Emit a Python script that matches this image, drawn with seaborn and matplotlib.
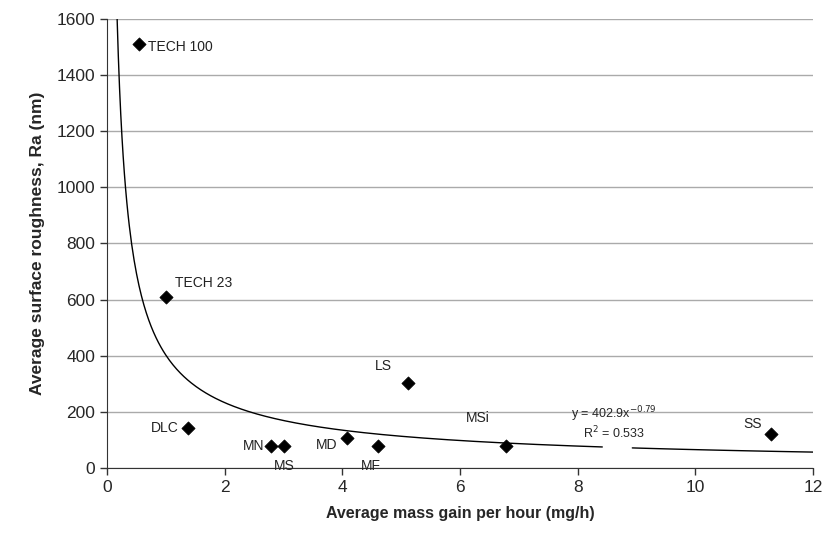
import numpy as np
import pandas as pd
import matplotlib
matplotlib.use("Agg")
import matplotlib.pyplot as plt
import seaborn as sns

labels = ["TECH 100", "TECH 23", "DLC", "MN", "MS", "MD", "MF", "LS", "MSi", "SS"]
mass_gain = [0.54, 1.0, 1.38, 2.79, 3.01, 4.08, 4.61, 5.12, 6.79, 11.28]
roughness = [1510, 610, 143, 78, 78, 107, 78, 303, 78, 121]
fit_a = 402.9
fit_b = -0.79
r2 = 0.533

sns.set_style("white")
plt.rcParams['font.family'] = ['Liberation Sans', 'DejaVu Sans']

fig = plt.figure(figsize=(8.22, 5.41), dpi=100)
ax = fig.add_axes([0.130, 0.135, 0.859, 0.830])

df = pd.DataFrame({"x": mass_gain, "y": roughness, "label": labels})

# fitted power curve, with a gap where the equation sits
xs1 = np.linspace(0.174, 8.42, 400)
xs2 = np.linspace(8.93, 12, 100)
for xs in (xs1, xs2):
    fdf = pd.DataFrame({"x": xs, "y": fit_a * xs ** fit_b})
    sns.lineplot(data=fdf, x="x", y="y", ax=ax, color="black", lw=1.0, zorder=2)

sns.scatterplot(data=df, x="x", y="y", ax=ax, marker="D", s=45, color="black",
                edgecolor="black", zorder=3)

offsets = {
    "TECH 100": (7, -2, "left"),
    "TECH 23": (7, 10, "left"),
    "DLC": (-7, 0, "right"),
    "MN": (-5, 0, "right"),
    "MS": (0, -14, "center"),
    "MD": (-7, -5, "right"),
    "MF": (-5, -14, "center"),
    "LS": (-12, 12, "right"),
    "MSi": (-12, 20, "right"),
    "SS": (-6, 7, "right"),
}
for lab, x, y in zip(labels, mass_gain, roughness):
    dx, dy, ha = offsets[lab]
    ax.annotate(lab, (x, y), xytext=(dx, dy), textcoords="offset points",
                ha=ha, va="center", fontsize=10, color="#222222")

ax.text(8.62, 192, r"y = 402.9x$^{-0.79}$", fontsize=9, ha="center", va="center")
ax.text(8.62, 124, r"R$^{2}$ = 0.533", fontsize=9, ha="center", va="center")

ax.set_xlim(0, 12)
ax.set_ylim(0, 1600)
ax.set_xticks(range(0, 13, 2))
ax.set_yticks(range(0, 1601, 200))
ax.yaxis.grid(True, color="#aaaaaa", lw=1)
ax.set_axisbelow(True)
for s in ["top", "right"]:
    ax.spines[s].set_visible(False)
for s in ["left", "bottom"]:
    ax.spines[s].set_color("#333333")
ax.tick_params(axis="both", direction="out", length=5, width=1, color="#333333",
               labelsize=12.5, bottom=True, left=True)
ax.set_xlabel("Average mass gain per hour (mg/h)", fontsize=11.5, fontweight="bold", labelpad=8)
ax.set_ylabel("Average surface roughness, Ra (nm)", fontsize=12.5, fontweight="bold", labelpad=8)

fig.savefig("out.png", dpi=100)
